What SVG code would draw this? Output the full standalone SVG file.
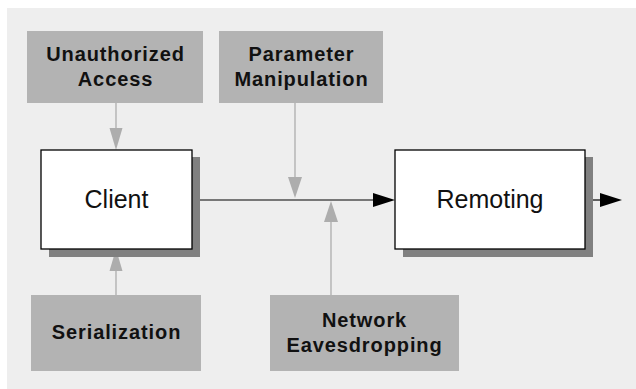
<svg xmlns="http://www.w3.org/2000/svg" width="636" height="389" viewBox="0 0 636 389">
<style>
.threat{fill:#b3b3b3}
.tl{font-family:"Liberation Sans",Arial,sans-serif;font-weight:bold;font-size:20px;letter-spacing:0.9px;fill:#111;text-anchor:middle}
.box{fill:#fff;stroke:#000;stroke-width:1.3}
.shadow{fill:#808080}
.bl{font-family:"Liberation Sans",Arial,sans-serif;font-size:25px;fill:#111;text-anchor:middle}
.g{stroke:#adadad;stroke-width:1.3;fill:none}
.gh{fill:#adadad}
.k{stroke:#000;stroke-width:1.2;fill:none}
.kh{fill:#000}
</style>
<rect x="7" y="8" width="629" height="381" fill="#eeeeee"/>
<g id="connectors">
<line class="g" x1="116" y1="103" x2="116" y2="130"/>
<polygon class="gh" points="109.5,128 122.5,128 116,150"/>
<line class="g" x1="295" y1="103" x2="295" y2="180"/>
<polygon class="gh" points="288,177 302,177 295,198"/>
<line class="g" x1="116" y1="295" x2="116" y2="269"/>
<polygon class="gh" points="109.5,271 122.5,271 116,249"/>
<line class="g" x1="331" y1="295" x2="331" y2="220"/>
<polygon class="gh" points="324,222 338,222 331,201"/>
<line class="k" x1="192" y1="200" x2="376" y2="200"/>
<polygon class="kh" points="373,193 373,207 395,200"/>
<line class="k" x1="593" y1="200" x2="602" y2="200"/>
<polygon class="kh" points="600,193 600,207 622,200"/>
</g>
<g id="unauthorized-access">
<rect class="threat" x="27" y="31" width="176" height="72"/>
<text class="tl" x="115.5" y="61">Unauthorized</text>
<text class="tl" x="115.5" y="86">Access</text>
</g>
<g id="parameter-manipulation">
<rect class="threat" x="219" y="31" width="164" height="72"/>
<text class="tl" x="301.5" y="61">Parameter</text>
<text class="tl" x="301.5" y="86">Manipulation</text>
</g>
<g id="client">
<rect class="shadow" x="49" y="157" width="151" height="100"/>
<rect class="box" x="41" y="150" width="151" height="99"/>
<text class="bl" x="116.5" y="208">Client</text>
</g>
<g id="remoting">
<rect class="shadow" x="403" y="157" width="190" height="100"/>
<rect class="box" x="395" y="150" width="190" height="99"/>
<text class="bl" x="490" y="208">Remoting</text>
</g>
<g id="serialization">
<rect class="threat" x="31" y="295" width="170" height="76"/>
<text class="tl" x="116.5" y="339">Serialization</text>
</g>
<g id="network-eavesdropping">
<rect class="threat" x="270" y="295" width="189" height="76"/>
<text class="tl" x="364.5" y="327">Network</text>
<text class="tl" x="364.5" y="352">Eavesdropping</text>
</g>
</svg>
